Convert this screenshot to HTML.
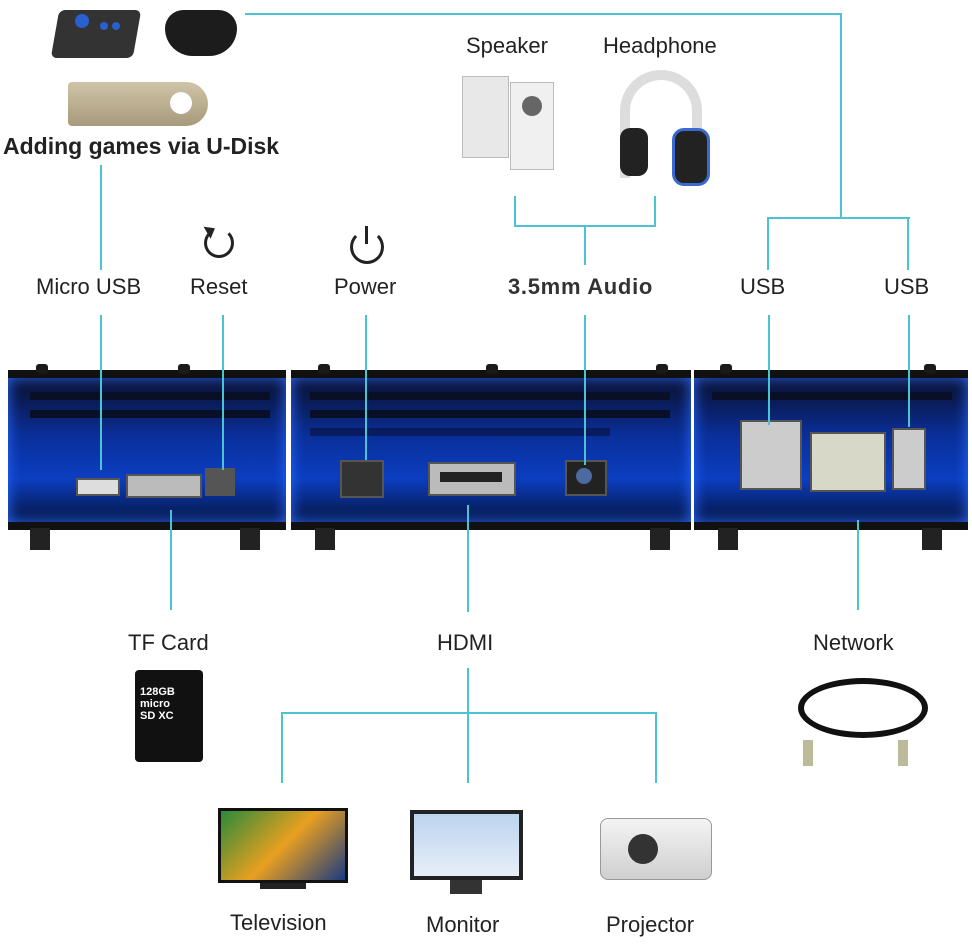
<!DOCTYPE html>
<html><head><meta charset="utf-8"><style>
body{margin:0;width:972px;height:944px;background:#fff;position:relative;overflow:hidden;font-family:"Liberation Sans",sans-serif;}
.a{position:absolute}
.h{position:absolute;height:2px;background:#4cc3d3}
.v{position:absolute;width:2px;background:#4cc3d3}
.t{position:absolute;font-size:22px;color:#222;white-space:nowrap;line-height:1}
.box{position:absolute;background:linear-gradient(#0b0f2a,#0a2f9a 40%,#0b3ec0 70%,#061440);border-top:8px solid #111;border-bottom:8px solid #111;box-sizing:border-box;box-shadow:inset 0 0 14px #2a6aff}
.slat{position:absolute;height:8px;background:#0a0f28}
.foot{position:absolute;width:20px;height:22px;background:#222}
.port{position:absolute;background:#bbb;border:2px solid #555}
.bolt{position:absolute;width:12px;height:10px;background:#1a1a1a;border-radius:3px}
</style></head><body>
<!-- top images -->
<div class="a" style="left:55px;top:10px;width:82px;height:48px;background:#333;border-radius:6px;transform:skewX(-10deg)"></div>
<div class="a" style="left:75px;top:14px;width:14px;height:14px;background:#2a5fd0;border-radius:50%"></div>
<div class="a" style="left:100px;top:22px;width:8px;height:8px;background:#2a5fd0;border-radius:50%"></div>
<div class="a" style="left:112px;top:22px;width:8px;height:8px;background:#2a5fd0;border-radius:50%"></div>
<div class="a" style="left:165px;top:10px;width:72px;height:46px;background:#1c1c1c;border-radius:20px 20px 30px 30px"></div>
<div class="a" style="left:68px;top:82px;width:140px;height:44px;background:linear-gradient(#cfc4a8,#a89a7c);border-radius:4px 22px 22px 4px"></div>
<div class="a" style="left:170px;top:92px;width:22px;height:22px;background:#fff;border-radius:50%"></div>
<div class="t" style="left:3px;top:135px;font-weight:bold;font-size:23px">Adding games via U-Disk</div>

<div class="t" style="left:466px;top:35px">Speaker</div>
<div class="t" style="left:603px;top:35px">Headphone</div>
<div class="a" style="left:462px;top:76px;width:45px;height:80px;background:#e8e8e8;border:1px solid #bbb"></div>
<div class="a" style="left:510px;top:82px;width:42px;height:86px;background:#f0f0f0;border:1px solid #bbb"></div>
<div class="a" style="left:522px;top:96px;width:20px;height:20px;background:#666;border-radius:50%"></div>
<div class="a" style="left:620px;top:70px;width:82px;height:108px;border:10px solid #ddd;border-bottom:none;border-radius:45px 45px 0 0;box-sizing:border-box"></div>
<div class="a" style="left:620px;top:128px;width:28px;height:48px;background:#222;border-radius:10px"></div>
<div class="a" style="left:672px;top:128px;width:32px;height:52px;background:#222;border-radius:12px;border:3px solid #3a6ad0"></div>

<!-- icons -->
<div class="a" style="left:204px;top:228px;width:30px;height:30px;border:3px solid #222;border-radius:50%;box-sizing:border-box;border-top-color:transparent"></div>
<div class="a" style="left:204px;top:226px;width:0;height:0;border-left:7px solid transparent;border-right:7px solid transparent;border-bottom:9px solid #222;transform:rotate(60deg)"></div>
<div class="a" style="left:350px;top:230px;width:34px;height:34px;border:3px solid #222;border-radius:50%;box-sizing:border-box;border-top-color:transparent"></div>
<div class="a" style="left:365px;top:226px;width:3px;height:18px;background:#222"></div>

<!-- labels -->
<div class="t" style="left:36px;top:276px">Micro USB</div>
<div class="t" style="left:190px;top:276px">Reset</div>
<div class="t" style="left:334px;top:276px">Power</div>
<div class="t" style="left:508px;top:276px;font-weight:bold;color:#333;letter-spacing:0.7px">3.5mm Audio</div>
<div class="t" style="left:740px;top:276px">USB</div>
<div class="t" style="left:884px;top:276px">USB</div>

<!-- connector lines top -->
<div class="h" style="left:245px;top:13px;width:597px"></div>
<div class="v" style="left:840px;top:13px;height:205px"></div>
<div class="h" style="left:767px;top:217px;width:143px"></div>
<div class="v" style="left:767px;top:217px;height:53px"></div>
<div class="v" style="left:907px;top:217px;height:53px"></div>
<div class="v" style="left:100px;top:165px;height:105px"></div>
<div class="v" style="left:514px;top:196px;height:30px"></div>
<div class="v" style="left:654px;top:196px;height:30px"></div>
<div class="h" style="left:514px;top:225px;width:142px"></div>
<div class="v" style="left:584px;top:225px;height:40px"></div>

<!-- boxes -->
<div class="box" style="left:8px;top:370px;width:278px;height:160px"></div>
<div class="box" style="left:291px;top:370px;width:400px;height:160px"></div>
<div class="box" style="left:694px;top:370px;width:274px;height:160px"></div>
<div class="slat" style="left:30px;top:392px;width:240px"></div>
<div class="slat" style="left:30px;top:410px;width:240px"></div>
<div class="slat" style="left:310px;top:392px;width:360px"></div>
<div class="slat" style="left:310px;top:410px;width:360px"></div>
<div class="slat" style="left:310px;top:428px;width:300px;background:#0a1c60"></div>
<div class="slat" style="left:712px;top:392px;width:240px"></div>
<div class="bolt" style="left:36px;top:364px"></div><div class="bolt" style="left:178px;top:364px"></div>
<div class="bolt" style="left:318px;top:364px"></div><div class="bolt" style="left:486px;top:364px"></div><div class="bolt" style="left:656px;top:364px"></div>
<div class="bolt" style="left:720px;top:364px"></div><div class="bolt" style="left:924px;top:364px"></div>
<div class="foot" style="left:30px;top:528px"></div><div class="foot" style="left:240px;top:528px"></div>
<div class="foot" style="left:315px;top:528px"></div><div class="foot" style="left:650px;top:528px"></div>
<div class="foot" style="left:718px;top:528px"></div><div class="foot" style="left:922px;top:528px"></div>
<!-- ports -->
<div class="port" style="left:76px;top:478px;width:40px;height:14px;background:#ddd"></div>
<div class="port" style="left:126px;top:474px;width:72px;height:20px"></div>
<div class="port" style="left:205px;top:468px;width:26px;height:24px;background:#555"></div>
<div class="port" style="left:340px;top:460px;width:40px;height:34px;background:#333"></div>
<div class="port" style="left:428px;top:462px;width:84px;height:30px"></div>
<div class="a" style="left:440px;top:472px;width:62px;height:10px;background:#222"></div>
<div class="port" style="left:565px;top:460px;width:38px;height:32px;background:#222"></div>
<div class="a" style="left:576px;top:468px;width:16px;height:16px;background:#4a6aa0;border-radius:50%"></div>
<div class="port" style="left:740px;top:420px;width:58px;height:66px;background:#ccc"></div>
<div class="port" style="left:810px;top:432px;width:72px;height:56px;background:#d8d8c8"></div>
<div class="port" style="left:892px;top:428px;width:30px;height:58px;background:#ccc"></div>

<!-- lines down to ports -->
<div class="v" style="left:100px;top:315px;height:155px"></div>
<div class="v" style="left:222px;top:315px;height:155px"></div>
<div class="v" style="left:365px;top:315px;height:145px"></div>
<div class="v" style="left:584px;top:315px;height:150px"></div>
<div class="v" style="left:768px;top:315px;height:110px"></div>
<div class="v" style="left:908px;top:315px;height:112px"></div>
<div class="v" style="left:170px;top:510px;height:100px"></div>
<div class="v" style="left:467px;top:505px;height:107px"></div>
<div class="v" style="left:857px;top:520px;height:90px"></div>

<div class="t" style="left:128px;top:632px">TF Card</div>
<div class="t" style="left:437px;top:632px">HDMI</div>
<div class="t" style="left:813px;top:632px">Network</div>

<!-- bottom -->
<div class="a" style="left:135px;top:670px;width:68px;height:92px;background:#111;border-radius:4px"></div>
<div class="a" style="left:140px;top:686px;color:#fff;font-size:11px;font-weight:bold">128GB<br>micro<br>SD XC</div>
<div class="a" style="left:798px;top:678px;width:130px;height:60px;border:6px solid #111;border-radius:50%;box-sizing:border-box"></div>
<div class="a" style="left:803px;top:740px;width:10px;height:26px;background:#bb9"></div>
<div class="a" style="left:898px;top:740px;width:10px;height:26px;background:#bb9"></div>

<div class="v" style="left:467px;top:668px;height:115px"></div>
<div class="h" style="left:281px;top:712px;width:376px"></div>
<div class="v" style="left:281px;top:712px;height:71px"></div>
<div class="v" style="left:655px;top:712px;height:71px"></div>

<div class="a" style="left:218px;top:808px;width:130px;height:75px;background:linear-gradient(135deg,#2a8a3a,#e8a020,#1a3a80);border:3px solid #111;box-sizing:border-box"></div>
<div class="a" style="left:260px;top:883px;width:46px;height:6px;background:#222"></div>
<div class="a" style="left:410px;top:810px;width:113px;height:70px;background:linear-gradient(#bcd4f0,#e8eef8);border:4px solid #222;box-sizing:border-box"></div>
<div class="a" style="left:450px;top:880px;width:32px;height:14px;background:#333"></div>
<div class="a" style="left:600px;top:818px;width:110px;height:60px;background:linear-gradient(#f4f4f4,#cfcfcf);border-radius:8px;border:1px solid #999"></div>
<div class="a" style="left:628px;top:834px;width:30px;height:30px;background:#333;border-radius:50%"></div>

<div class="t" style="left:230px;top:912px">Television</div>
<div class="t" style="left:426px;top:914px">Monitor</div>
<div class="t" style="left:606px;top:914px">Projector</div>
</body></html>
